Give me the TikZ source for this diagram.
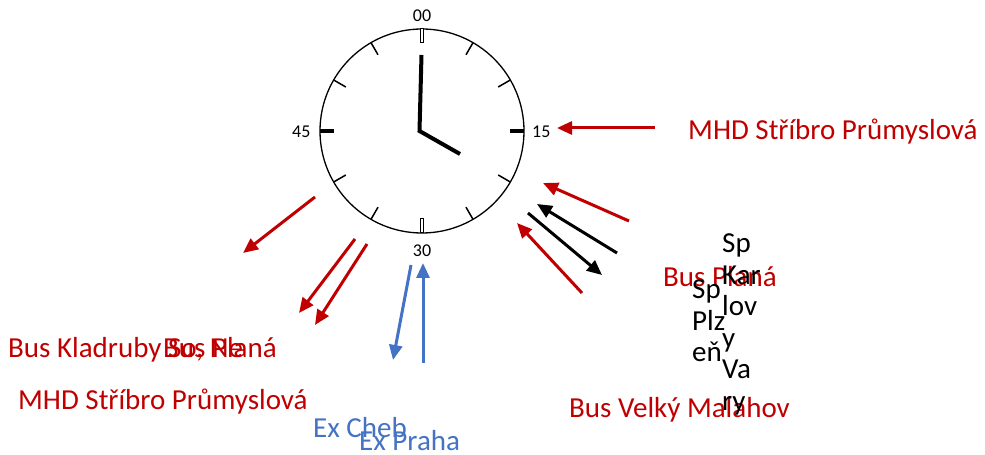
\documentclass[tikz,border=0pt]{standalone}
\usepackage{fontspec}
\setmainfont{Carlito}
\usetikzlibrary{arrows.meta}
\definecolor{cred}{HTML}{C00000}
\definecolor{cblue}{HTML}{4472C4}
\begin{document}
\begin{tikzpicture}[x=1bp,y=-1bp,
  lbl/.style={inner sep=0pt, anchor=base west, font=\fontsize{29bp}{31.5bp}\selectfont, align=left},
  num/.style={inner sep=0pt, font=\fontsize{18bp}{20bp}\selectfont},
  arr/.style={line width=3bp, -{Triangle[length=15bp,width=13bp]}},
  tickthin/.style={line width=1.5bp},
  tickthick/.style={line width=4bp},
  tickhollow/.style={line width=1bp, fill=white},
  hand/.style={line width=4bp, miter limit=10}]
\useasboundingbox (0,0) rectangle (985,455);
% clock face
\node[circle, draw, line width=1.3bp, minimum size=204bp, inner sep=0pt] (clock) at (422,131) {};
\foreach \i in {1,2,4,5,7,8,10,11}
  \draw[tickthin, shift={(clock.center)}] ({30*\i-90}:102) -- ({30*\i-90}:88);
\draw[tickthick, shift={(clock.center)}] (0:102) -- (0:88);
\draw[tickthick, shift={(clock.center)}] (180:102) -- (180:88);
\draw[tickhollow] (420.3,29) rectangle (423.7,43);
\draw[tickhollow] (420.3,219) rectangle (423.7,233);
% hands
\coordinate (mtip) at (421.5,55);
\coordinate (hc) at (419.5,131);
\coordinate (htip) at (460,154);
\draw[hand] (mtip) -- (hc) -- (htip);
% numbers
\node[num, anchor=base] (n00) at (422,22) {00};
\node[num, anchor=base west] (n15) at (532,138) {15};
\node[num, anchor=base] (n30) at (422,257) {30};
\node[num, anchor=base west] (n45) at (292,138) {45};
% arrows
\coordinate (a1s) at (655,128);  \coordinate (a1e) at (557,128);
\coordinate (a2s) at (629,221);  \coordinate (a2e) at (543,183);
\coordinate (a3s) at (617,253);  \coordinate (a3e) at (537,204);
\coordinate (a4s) at (528,213);  \coordinate (a4e) at (602,275);
\coordinate (a5s) at (582,293);  \coordinate (a5e) at (517,223);
\coordinate (a6s) at (315,197);  \coordinate (a6e) at (243,253);
\coordinate (a7s) at (355,239);  \coordinate (a7e) at (299,313);
\coordinate (a8s) at (367,244);  \coordinate (a8e) at (315,325);
\coordinate (a9s) at (411,265);  \coordinate (a9e) at (393,360);
\coordinate (a10s) at (423,363); \coordinate (a10e) at (423,263);
\draw[arr, cred] (a1s) -- (a1e);
\draw[arr, cred] (a2s) -- (a2e);
\draw[arr, black] (a3s) -- (a3e);
\draw[arr, black] (a4s) -- (a4e);
\draw[arr, cred] (a5s) -- (a5e);
\draw[arr, cred] (a6s) -- (a6e);
\draw[arr, cred] (a7s) -- (a7e);
\draw[arr, cred] (a8s) -- (a8e);
\draw[arr, cblue] (a9s) -- (a9e);
\draw[arr, cblue] (a10s) -- (a10e);
% texts
\node[lbl, text=cred] (t1) at (688,140) {MHD Stříbro Průmyslová};
\node[lbl, text=cred] (t2) at (663,287) {Bus Planá};
\node[lbl, text=cred] (t3) at (569,417) {Bus Velký Malahov};
\node[lbl, text=cred] (t4) at (8,358) {Bus Kladruby So, Ne};
\node[lbl, text=cred] (t5) at (163,358) {Bus Planá};
\node[lbl, text=cred] (t6) at (18,409) {MHD Stříbro Průmyslová};
\node[lbl, text=cblue] (t7) at (313,437) {Ex Cheb};
\node[lbl, text=cblue] (t8) at (359,450) {Ex Praha};
\node[lbl] (t9) at (722,410.5) {Sp\\Kar\\lov\\y\\Va\\ry};
\node[lbl] (t10) at (692,362) {Sp\\Plz\\eň};
\end{tikzpicture}
\end{document}
